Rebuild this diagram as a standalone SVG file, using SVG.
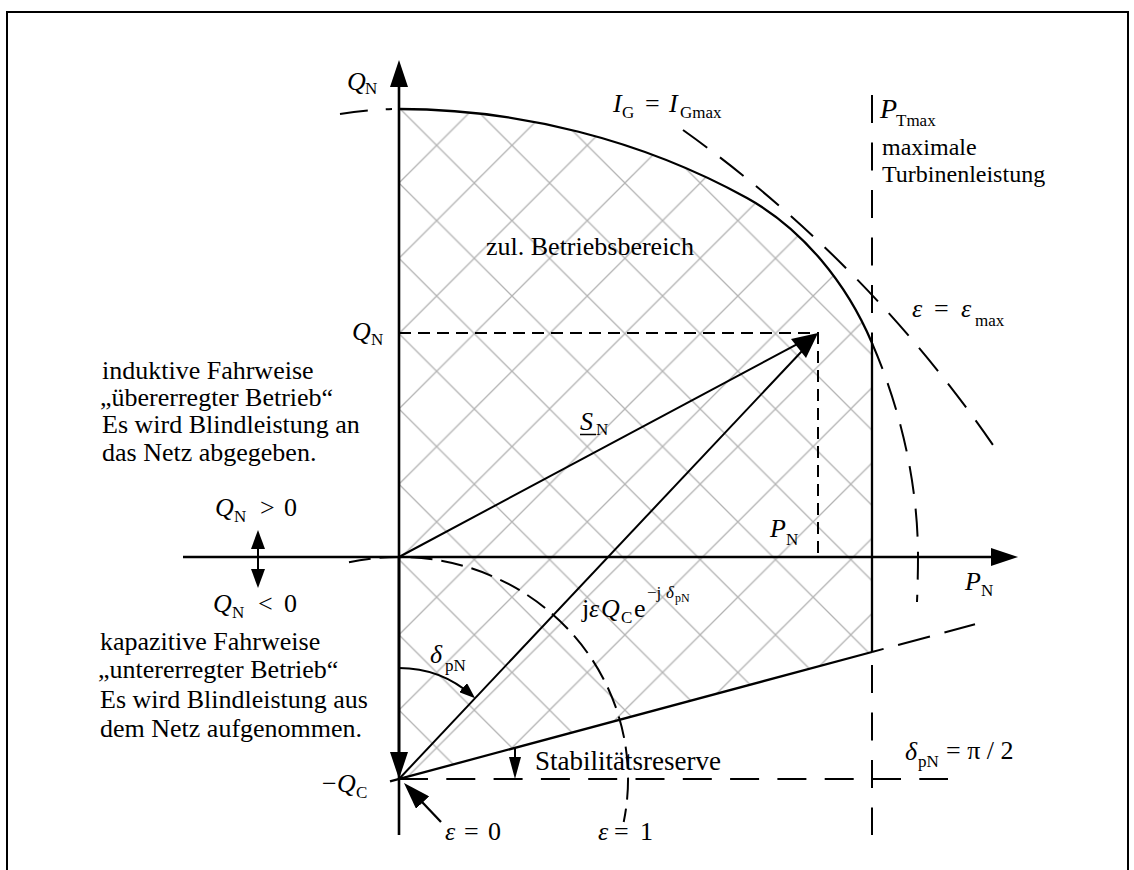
<svg xmlns="http://www.w3.org/2000/svg" width="1134" height="870" viewBox="0 0 1134 870">
<style>
text{font-family:"Liberation Serif","Times New Roman",serif;fill:#000}
.b{font-size:26px}
.r{font-size:24px}
.m{font-size:26px;font-style:italic}
.u{font-size:26px}
.s{font-size:17px}
.si{font-size:17px;font-style:italic}
.ss{font-size:12px}
.ax{stroke:#000;stroke-width:2.6;fill:none}
.ln{stroke:#000;stroke-width:2;fill:none}
.dl{stroke:#000;stroke-width:2;fill:none;stroke-dasharray:28 18}
.ds{stroke:#000;stroke-width:2;fill:none;stroke-dasharray:12 7}
</style>
<defs>
<pattern id="hatch" x="399" y="183" width="75.3" height="75.3" patternUnits="userSpaceOnUse">
<path d="M-2 -2L77.3 77.3M77.3 -2L-2 77.3" stroke="#b3b3b3" stroke-width="1.3" fill="none"/>
</pattern>
<marker id="ab" markerUnits="userSpaceOnUse" markerWidth="27" markerHeight="18" refX="19" refY="9" orient="auto" viewBox="0 0 27 18"><path d="M0 0L27 9L0 18z"/></marker>
<marker id="am" markerUnits="userSpaceOnUse" markerWidth="19" markerHeight="14" refX="13" refY="7" orient="auto-start-reverse" viewBox="0 0 19 14"><path d="M0 0L19 7L0 14z"/></marker>
<marker id="as" markerUnits="userSpaceOnUse" markerWidth="16" markerHeight="12" refX="12" refY="6" orient="auto" viewBox="0 0 16 12"><path d="M0 0L16 6L0 12z"/></marker>
<marker id="at" markerUnits="userSpaceOnUse" markerWidth="22" markerHeight="12" refX="18" refY="6" orient="auto" viewBox="0 0 22 12"><path d="M0 0L22 6L0 12z"/></marker>
</defs>
<rect width="1134" height="870" fill="#fff"/>
<path d="M7 870V12H1128V870" fill="none" stroke="#000" stroke-width="2"/>

<g id="region">
<path d="M399 109C519 109 642 140 747 198C803 229 847 284 872 343L872 652L399 779Z" fill="url(#hatch)"/>
</g>

<g id="connectors">
<path class="ax" d="M399 835L399 68" marker-end="url(#ab)"/>
<path class="ax" d="M183 557L1010 557" marker-end="url(#ab)"/>
<path class="ax" d="M399 557L399 771" marker-end="url(#ab)"/>
<path class="ln" d="M258 536L258 582" marker-start="url(#am)" marker-end="url(#am)"/>
<path class="ax" d="M399 109C519 109 642 140 747 198C803 229 847 284 872 343" style="stroke-width:2.3"/>
<path class="dl" d="M872 343C901 410 918 484 918 557C918 572 917.5 590 917 602" style="stroke-dasharray:28 15"/>
<path class="dl" d="M340 114Q366 110 392 109"/>
<path class="dl" d="M683 130A1274 1274 0 0 1 993 445" style="stroke-dasharray:30 16"/>
<path class="dl" d="M349 562.3A229 222 0 0 1 623.7 822" style="stroke-dasharray:22 9"/>
<path class="dl" d="M872 95V835" style="stroke-dasharray:28 19.5"/>
<path class="ax" d="M872 343V652" style="stroke-width:2.3"/>
<path class="dl" d="M399 779H948" style="stroke-dasharray:29 18.3"/>
<path class="ax" d="M390 781.4L872 652" style="stroke-width:2.3"/>
<path class="dl" d="M872 652L975 624.3" style="stroke-dasharray:12 15 33 15 33"/>
<path class="ds" d="M399 333H818V557"/>
<path class="ln" d="M399 557L808 338.3"/>
<path class="ln" d="M399 779L810.5 342"/>
<path d="M818 333L791 339L806 358Z"/>
<path class="ln" d="M399 668A111 111 0 0 1 472.1 695.5" marker-end="url(#as)"/>
<path class="ln" d="M515 747L515 775" marker-end="url(#at)"/>
<path class="ax" d="M441 822L409.5 788.8" style="stroke-width:2.3" marker-end="url(#ab)"/>
</g>

<g id="label-QN-axis"><text><tspan class="m" x="347" y="90">Q</tspan><tspan class="s" x="365" y="94">N</tspan></text></g>
<g id="label-IG"><text><tspan class="m" x="613" y="112">I</tspan><tspan class="s" x="622" y="118">G</tspan><tspan class="u" x="645" y="112">=</tspan><tspan class="m" x="669" y="112">I</tspan><tspan class="s" x="680" y="118">Gmax</tspan></text></g>
<g id="label-PT"><text><tspan class="m" x="880" y="118" style="font-size:28px">P</tspan><tspan class="s" x="896" y="126">Tmax</tspan></text>
<text class="r" x="882" y="155">maximale</text><text class="r" x="882" y="182">Turbinenleistung</text></g>
<g id="label-zul"><text class="b" x="486" y="255">zul. Betriebsbereich</text></g>
<g id="label-epsmax"><text><tspan class="m" x="912" y="317">ε</tspan><tspan class="u" x="934" y="317">=</tspan><tspan class="m" x="961" y="317">ε</tspan><tspan class="s" x="975" y="326">max</tspan></text></g>
<g id="label-QN-mid"><text><tspan class="m" x="352" y="340">Q</tspan><tspan class="s" x="371" y="345">N</tspan></text></g>
<g id="text-induktiv"><text class="b" x="102" y="379">induktive Fahrweise</text><text class="b" x="100" y="406">„übererregter Betrieb“</text><text class="b" x="102" y="433">Es wird Blindleistung an</text><text class="b" x="102" y="461">das Netz abgegeben.</text></g>
<g id="label-QN-gt"><text><tspan class="m" x="215" y="516">Q</tspan><tspan class="s" x="234" y="522">N</tspan><tspan class="u" x="260" y="516">&gt;</tspan><tspan class="u" x="284" y="516">0</tspan></text></g>
<g id="label-QN-lt"><text><tspan class="m" x="213" y="612">Q</tspan><tspan class="s" x="232" y="618">N</tspan><tspan class="u" x="258" y="612">&lt;</tspan><tspan class="u" x="284" y="612">0</tspan></text></g>
<g id="text-kapazitiv"><text class="b" x="100" y="650">kapazitive Fahrweise</text><text class="b" x="98" y="678">„untererregter Betrieb“</text><text class="b" x="100" y="708">Es wird Blindleistung aus</text><text class="b" x="100" y="737">dem Netz aufgenommen.</text></g>
<g id="label-SN"><text><tspan class="m" x="580" y="430">S</tspan><tspan class="s" x="596" y="435">N</tspan></text><path d="M580 434.5H596" stroke="#000" stroke-width="1.5"/></g>
<g id="label-PN-proj"><text><tspan class="m" x="770" y="537">P</tspan><tspan class="s" x="786" y="545">N</tspan></text></g>
<g id="label-PN-axis"><text><tspan class="m" x="965" y="590">P</tspan><tspan class="s" x="981" y="596">N</tspan></text></g>
<g id="label-jeps"><text><tspan class="u" x="582" y="617">j</tspan><tspan class="m" x="589" y="617">ε</tspan><tspan class="m" x="601" y="617">Q</tspan><tspan class="s" x="621" y="623">C</tspan><tspan class="u" x="634" y="617">e</tspan><tspan class="s" x="647" y="598">−j</tspan><tspan class="si" x="666" y="598">δ</tspan><tspan class="ss" x="675" y="602">pN</tspan></text></g>
<g id="label-delta"><text><tspan class="m" x="430" y="663">δ</tspan><tspan class="s" x="445" y="671">pN</tspan></text></g>
<g id="label-stab"><text class="b" x="535" y="770" style="font-size:27px">Stabilitätsreserve</text></g>
<g id="label-QC"><text><tspan class="u" x="322" y="792">−</tspan><tspan class="m" x="337" y="792">Q</tspan><tspan class="s" x="356" y="798">C</tspan></text></g>
<g id="label-eps0"><text><tspan class="m" x="445" y="840">ε</tspan><tspan class="u" x="464" y="840">=</tspan><tspan class="u" x="488" y="840">0</tspan></text></g>
<g id="label-eps1"><text><tspan class="m" x="598" y="840">ε</tspan><tspan class="u" x="614" y="840">=</tspan><tspan class="u" x="640" y="840">1</tspan></text></g>
<g id="label-deltapi"><text><tspan class="m" x="905" y="760">δ</tspan><tspan class="s" x="918" y="767">pN</tspan><tspan class="u" x="946" y="759">= π / 2</tspan></text></g>
</svg>
